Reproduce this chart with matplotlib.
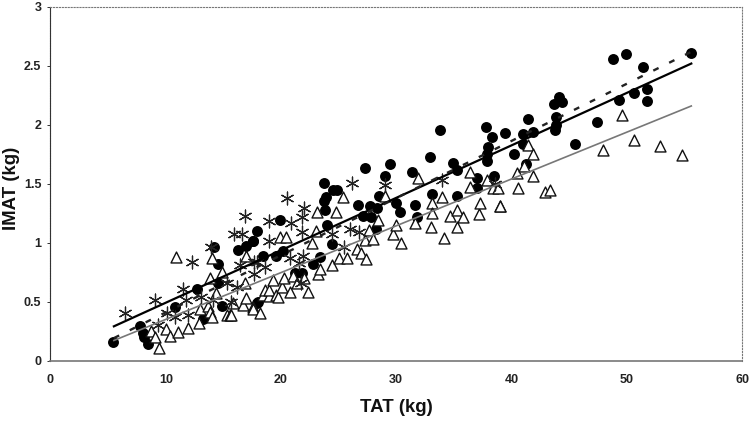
import numpy as np
import matplotlib
matplotlib.use('Agg')
import matplotlib.pyplot as plt

plt.rcParams['font.family'] = ['Liberation Sans', 'DejaVu Sans']

# Filled circles (TAT, IMAT)
circle_x = [5.4, 7.8, 8.0, 8.1, 8.5, 10.8, 12.7, 13.2, 14.2, 14.5, 14.5, 14.9, 16.3, 17.0, 17.6, 17.9,
            17.9, 18.0, 17.6, 19.9, 18.4, 19.6, 20.2, 21.2, 21.8, 22.8, 23.4, 24.4, 23.7, 24.5, 24.9,
            23.9, 23.7, 23.8, 24.0, 26.7, 27.1, 27.3, 27.7, 27.8, 28.2, 28.3, 28.5, 29.0, 29.5, 30.0,
            30.3, 31.4, 31.6, 31.8, 32.9, 33.1, 33.8, 34.9, 35.3, 35.3, 37.0, 37.0, 37.8, 37.9, 37.9,
            38.0, 38.3, 38.5, 39.4, 40.2, 41.0, 41.0, 41.3, 41.4, 41.9, 43.7, 43.8, 43.9, 43.9, 44.1,
            44.4, 45.5, 47.4, 48.8, 49.3, 49.9, 50.6, 51.4, 51.8, 51.8, 55.6]
circle_y = [0.16, 0.29, 0.23, 0.20, 0.14, 0.45, 0.61, 0.35, 0.96, 0.82, 0.66, 0.46, 0.94, 0.97, 1.01, 1.10,
            0.49, 0.50, 1.01, 1.19, 0.89, 0.89, 0.93, 0.74, 0.74, 0.82, 0.88, 0.99, 1.51, 1.45, 1.45,
            1.39, 1.35, 1.28, 1.15, 1.32, 1.23, 1.63, 1.31, 1.22, 1.12, 1.29, 1.40, 1.57, 1.67, 1.34,
            1.26, 1.60, 1.32, 1.22, 1.73, 1.41, 1.96, 1.68, 1.62, 1.40, 1.55, 1.46, 1.98, 1.75, 1.69,
            1.81, 1.90, 1.57, 1.93, 1.75, 1.92, 1.84, 1.67, 2.05, 1.94, 2.18, 1.96, 2.07, 2.00, 2.24,
            2.19, 1.84, 2.02, 2.56, 2.21, 2.60, 2.27, 2.49, 2.30, 2.20, 2.61]

# Open triangles
tri_x = [8.7, 9.1, 9.4, 10.0, 10.4, 10.9, 11.1, 11.9, 12.9, 13.0, 13.7, 13.8, 13.8, 14.0, 14.0, 14.4, 14.9,
         15.3, 15.6, 15.7, 15.8, 16.7, 16.9, 17.0, 17.0, 17.6, 17.6, 18.2, 18.4, 18.6, 19.0, 19.0, 19.3, 19.6,
         19.7, 19.9, 20.1, 20.3, 20.4, 20.8, 21.0, 21.4, 22.0, 22.3, 22.7, 23.0, 23.1, 23.2, 23.4, 24.4, 24.8,
         25.0, 25.4, 25.7, 26.6, 26.9, 27.3, 27.4, 27.6, 28.0, 28.4, 29.0, 29.7, 30.0, 30.4, 31.6, 31.9, 33.0,
         33.1, 33.1, 34.0, 34.1, 34.7, 35.3, 35.3, 35.8, 36.4, 36.4, 37.2, 37.3, 37.9, 38.4, 38.8, 39.0, 39.0,
         40.5, 40.6, 41.1, 41.4, 41.9, 41.9, 42.9, 43.3, 47.9, 49.6, 50.6, 52.9, 54.8]
tri_y = [0.25, 0.20, 0.11, 0.27, 0.21, 0.88, 0.24, 0.28, 0.32, 0.44, 0.46, 0.70, 0.41, 0.37, 0.87, 0.57, 0.75,
         0.39, 0.39, 0.39, 0.49, 0.47, 0.66, 0.53, 0.89, 0.45, 0.44, 0.40, 0.56, 0.60, 0.55, 0.60, 0.68, 0.56,
         0.54, 1.05, 0.62, 0.70, 1.05, 0.58, 0.72, 0.66, 0.70, 0.58, 1.00, 1.10, 1.26, 0.73, 0.78, 0.81, 1.26,
         0.87, 1.39, 0.87, 0.95, 0.91, 1.02, 0.86, 1.11, 1.03, 1.19, 1.40, 1.07, 1.15, 1.00, 1.17, 1.55, 1.13,
         1.34, 1.25, 1.39, 1.04, 1.23, 1.28, 1.13, 1.22, 1.47, 1.60, 1.24, 1.34, 1.53, 1.46, 1.46, 1.31, 1.31,
         1.59, 1.46, 1.65, 1.83, 1.75, 1.57, 1.43, 1.45, 1.79, 2.08, 1.87, 1.82, 1.74]

# Asterisks
star_x = [6.5, 9.1, 9.3, 10.1, 10.8, 11.5, 11.8, 11.9, 12.3, 13.1, 13.9, 14.1, 15.3, 15.7, 15.9, 16.2, 16.4,
          16.6, 16.9, 17.7, 17.7, 17.9, 18.6, 19.0, 19.0, 20.5, 20.8, 20.9, 21.6, 21.7, 21.8, 21.8, 21.9, 22.0,
          24.4, 25.5, 26.0, 26.2, 26.8, 29.0, 34.0, 38.6]
star_y = [0.40, 0.51, 0.30, 0.40, 0.37, 0.61, 0.51, 0.39, 0.84, 0.54, 0.96, 0.51, 0.66, 0.50, 1.07, 0.62, 0.81,
          1.07, 1.23, 0.84, 0.73, 0.84, 0.79, 1.18, 1.01, 1.38, 0.87, 1.17, 0.83, 0.66, 1.09, 1.22, 0.89, 1.29,
          1.07, 0.96, 1.12, 1.51, 1.09, 1.49, 1.53, 1.50]

# Regression lines
fit_x = [5.5, 55.6]
solid_y = [0.29, 2.52]
dashed_y = [0.19, 2.62]
gray_y = [0.17, 2.16]

x_ticks = [0, 10, 20, 30, 40, 50, 60]
y_ticks = [0, 0.5, 1, 1.5, 2, 2.5, 3]
y_labels = ['0', '0.5', '1', '1.5', '2', '2.5', '3']

fig = plt.figure(figsize=(7.5, 4.23), dpi=100)
ax = fig.add_axes([50.5 / 750, 1 - 360.5 / 423, 691.5 / 750, 353.5 / 423])

ax.scatter(circle_x, circle_y, s=62, c='black', marker='o', linewidths=0, zorder=2)
ax.scatter(tri_x, tri_y, s=62, facecolors='white', edgecolors='#111111', marker='^', linewidths=1.0, zorder=3)
ax.scatter(star_x, star_y, s=85, c='#222222', marker=(6, 2, 0), linewidths=0.9, zorder=4)

ax.plot(fit_x, solid_y, color='black', lw=1.6, zorder=5)
ax.plot(fit_x, dashed_y, color='#222222', lw=1.7, ls=(0, (2.5, 5)), zorder=5)
ax.plot(fit_x, gray_y, color='#777777', lw=1.2, zorder=5)

ax.set_xlim(0, 60)
ax.set_ylim(0, 3)
ax.set_xticks(x_ticks)
ax.set_yticks(y_ticks)
ax.set_yticklabels(y_labels)
ax.tick_params(axis='x', length=0, pad=10, labelsize=9)
ax.tick_params(axis='y', length=2.5, width=0.7, color='#333333', pad=4, labelsize=9)
for lab in ax.get_xticklabels() + ax.get_yticklabels():
    lab.set_fontweight('bold')
    lab.set_color('#222222')

ax.spines['left'].set_color('#333333')
ax.spines['bottom'].set_color('#777777')
ax.spines['bottom'].set_linewidth(1.2)
ax.spines['top'].set_color('#777777')
ax.spines['right'].set_color('#777777')
ax.spines['top'].set_linestyle(':')
ax.spines['right'].set_linestyle(':')
ax.spines['left'].set_linestyle((0, (1, 0.5)))

fig.text(396.5 / 750, 1 - 407 / 423, 'TAT (kg)', fontsize=13.4, fontweight='bold', ha='center', va='center', color='#111111')
fig.text(11.5 / 750, 1 - 188 / 423, 'IMAT (kg)', fontsize=13.4, fontweight='bold', ha='center', va='center', rotation=90, color='#111111')

fig.savefig('out.png', dpi=100)
